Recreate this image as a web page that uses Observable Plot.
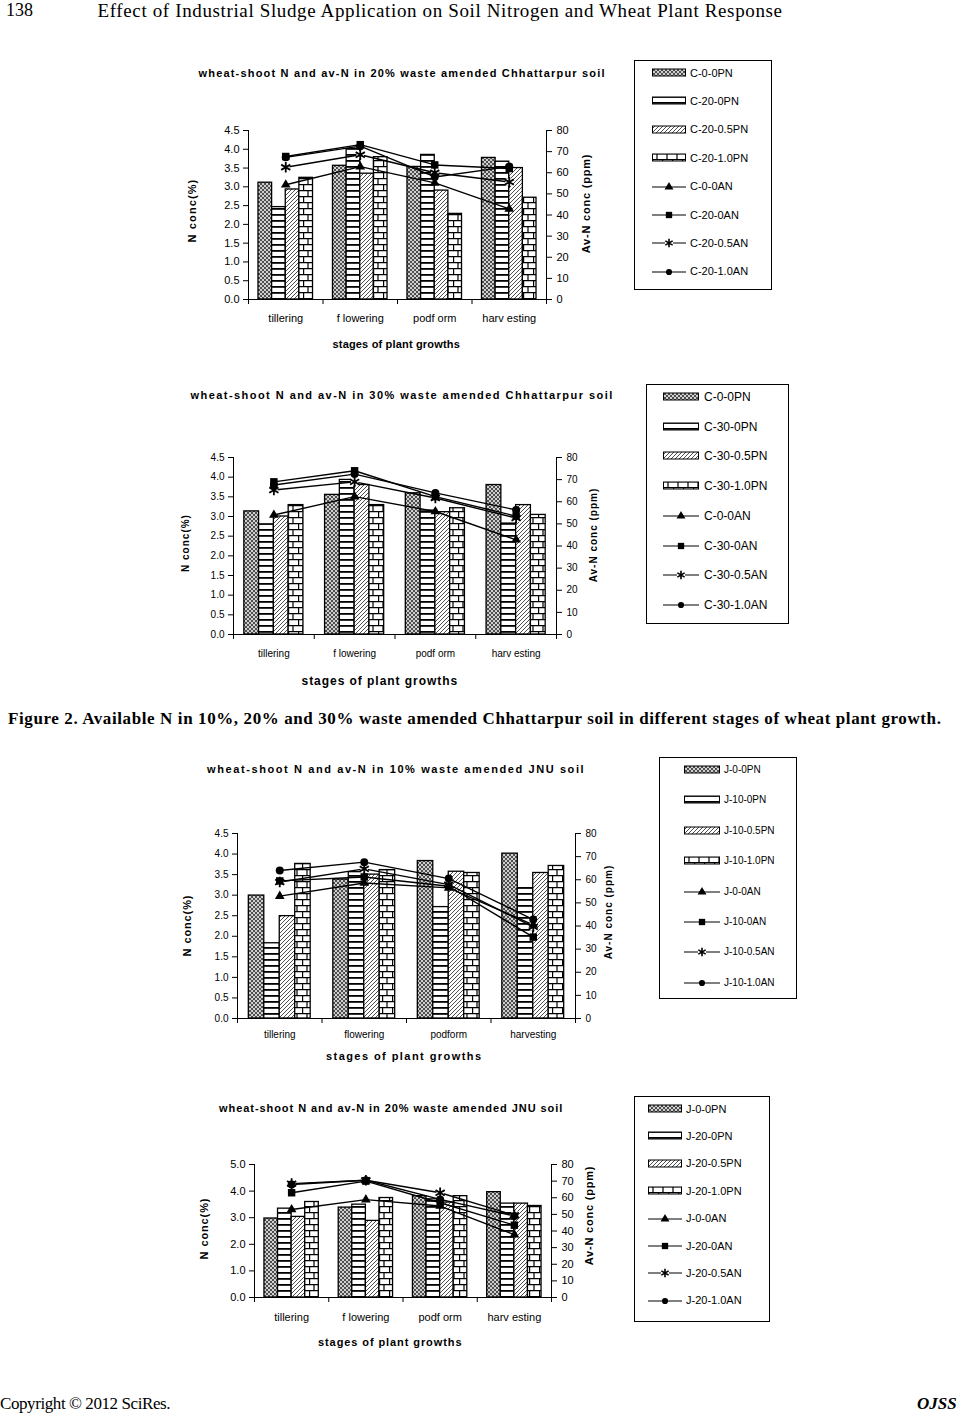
<!DOCTYPE html>
<html><head><meta charset="utf-8">
<script src="https://cdn.jsdelivr.net/npm/d3@7"></script>
<script src="https://cdn.jsdelivr.net/npm/@observablehq/plot@0.6"></script>
<style>
body{margin:0;background:#fff;}
#page{position:relative;width:965px;height:1414px;overflow:hidden;background:#fff;color:#000;}
.t{position:absolute;white-space:nowrap;line-height:1;}
.lg{position:absolute;border:1px solid #000;box-sizing:border-box;}
.ch{position:absolute;}
</style></head><body>
<svg width="0" height="0" style="position:absolute">
<defs>
<pattern id="pCross" width="4" height="4" patternUnits="userSpaceOnUse">
  <rect width="4" height="4" fill="#d0d0d0"/>
  <path d="M0,0L4,4M4,0L0,4" stroke="#404040" stroke-width="0.9"/>
</pattern>
<pattern id="pHoriz" width="6" height="6" patternUnits="userSpaceOnUse">
  <rect width="6" height="6" fill="#fff"/>
  <rect y="0" width="6" height="1.8" fill="#000"/>
</pattern>
<pattern id="pDiag" width="4" height="4" patternUnits="userSpaceOnUse">
  <rect width="4" height="4" fill="#fff"/>
  <path d="M-1,1L1,-1M0,4L4,0M3,5L5,3" stroke="#3a3a3a" stroke-width="0.9"/>
</pattern>
<pattern id="pBrick" width="10" height="12" patternUnits="userSpaceOnUse">
  <rect width="10" height="12" fill="#fff"/>
  <path d="M0,0.6H10M0,6.6H10M5,0.6V6.6M0.6,6.6V12.6" stroke="#000" stroke-width="1.2"/>
</pattern>
</defs></svg>
<div id="page"></div>
<script>
// ---------- data ----------
const stagesC = ["tillering", "f lowering", "podf orm", "harv esting"];
const stagesJ = ["tillering", "flowering", "podform", "harvesting"];
const rightTicks = [0, 10, 20, 30, 40, 50, 60, 70, 80];
const leftTicks45 = [0, 0.5, 1, 1.5, 2, 2.5, 3, 3.5, 4, 4.5];
const leftTicks50 = [0, 1, 2, 3, 4, 5];

// Chart 1: 20% Chhattarpur
const c20BarNames = ["C-0-0PN", "C-20-0PN", "C-20-0.5PN", "C-20-1.0PN"];
const c20LineNames = ["C-0-0AN", "C-20-0AN", "C-20-0.5AN", "C-20-1.0AN"];
const c20Bars = [
  [3.11, 3.56, 3.53, 3.77],
  [2.46, 4.01, 3.85, 3.67],
  [2.93, 3.35, 2.90, 3.50],
  [3.24, 3.79, 2.28, 2.71]
];
const c20Lines = [
  [54.3, 62.9, 55.2, 42.9],
  [67.7, 73.3, 63.7, 62.0],
  [62.6, 68.5, 60.0, 55.6],
  [67.3, 72.6, 58.0, 62.9]
];

// Chart 2: 30% Chhattarpur
const c30BarNames = ["C-0-0PN", "C-30-0PN", "C-30-0.5PN", "C-30-1.0PN"];
const c30LineNames = ["C-0-0AN", "C-30-0AN", "C-30-0.5AN", "C-30-1.0AN"];
const c30Bars = [
  [3.13, 3.55, 3.59, 3.80],
  [2.80, 3.93, 3.15, 2.82],
  [3.00, 3.80, 3.11, 3.29],
  [3.29, 3.29, 3.21, 3.04]
];
const c30Lines = [
  [54.0, 62.3, 55.6, 42.8],
  [69.0, 74.0, 62.3, 53.5],
  [65.3, 69.0, 61.7, 52.6],
  [67.6, 72.5, 64.0, 56.3]
];

// Chart 3: 10% JNU
const j10BarNames = ["J-0-0PN", "J-10-0PN", "J-10-0.5PN", "J-10-1.0PN"];
const j10LineNames = ["J-0-0AN", "J-10-0AN", "J-10-0.5AN", "J-10-1.0AN"];
const j10Bars = [
  [2.99, 3.38, 3.83, 4.01],
  [1.83, 3.56, 2.71, 3.17],
  [2.49, 3.50, 3.57, 3.54],
  [3.76, 3.61, 3.54, 3.71]
];
const j10Lines = [
  [52.9, 58.6, 56.5, 40.5],
  [59.5, 61.2, 57.2, 35.2],
  [59.0, 64.7, 57.9, 39.6],
  [64.0, 67.6, 60.5, 42.8]
];

// Chart 4: 20% JNU
const j20BarNames = ["J-0-0PN", "J-20-0PN", "J-20-0.5PN", "J-20-1.0PN"];
const j20LineNames = ["J-0-0AN", "J-20-0AN", "J-20-0.5AN", "J-20-1.0AN"];
const j20Bars = [
  [2.97, 3.38, 3.81, 3.96],
  [3.34, 3.49, 3.69, 3.53],
  [3.03, 2.88, 3.57, 3.53],
  [3.59, 3.74, 3.81, 3.44]
];
const j20Lines = [
  [52.9, 58.9, 55.0, 37.8],
  [63.0, 70.0, 57.0, 43.5],
  [68.5, 70.5, 63.0, 49.5],
  [68.0, 70.5, 59.0, 49.0]
];

// ---------- helpers ----------
const FONT = '"Liberation Sans", Arial, sans-serif';
const SERIF = '"Liberation Serif", "Times New Roman", serif';
const page = document.getElementById("page");
const patternIds = ["pCross", "pHoriz", "pDiag", "pBrick"];

function addText(str, o) {
  const el = document.createElement("div");
  el.className = "t";
  el.textContent = str;
  el.style.fontFamily = o.serif ? SERIF : FONT;
  el.style.fontSize = o.size + "px";
  if (o.bold) el.style.fontWeight = "bold";
  if (o.italic) el.style.fontStyle = "italic";
  page.appendChild(el);
  let w = el.offsetWidth;
  if (o.fit) {
    const n = [...str].length;
    el.style.letterSpacing = ((o.fit - w) / n) + "px";
    w = el.offsetWidth;
  }
  const h = el.offsetHeight;
  const a = o.anchor === "start" ? 0 : o.anchor === "end" ? 1 : 0.5;
  if (o.rotate) {
    el.style.left = (o.x - w / 2) + "px";
    el.style.top = (o.y - h / 2) + "px";
    el.style.transform = "rotate(-90deg)";
  } else {
    el.style.left = (o.x - a * w) + "px";
    el.style.top = (o.y - h / 2) + "px";
  }
  return el;
}

function chart(c) {
  const k = c.yMax / 80;
  const bw = 0.183;
  const barData = c.bars.flatMap((vals, s) => vals.map((v, i) => ({s, i, v})));
  const lineData = c.lines.flatMap((vals, s) => vals.map((v, i) => ({s, i, v: v * k})));
  const W = c.px1 - c.px0 + c.ml + c.mr;
  const H = c.py1 - c.py0 + c.mt + c.mb;
  const ser = s => lineData.filter(d => d.s === s);
  const svg = Plot.plot({
    width: W, height: H,
    marginLeft: c.ml, marginRight: c.mr, marginTop: c.mt, marginBottom: c.mb,
    x: {type: "linear", domain: [-0.5, 3.5], axis: null},
    y: {type: "linear", domain: [0, c.yMax], axis: null},
    style: {fontFamily: FONT, fontSize: c.fs + "px", color: "#000", background: "transparent", overflow: "visible"},
    marks: [
      ...patternIds.map((p, s) => Plot.rectY(barData.filter(d => d.s === s), {
        x1: d => d.i + (s - 2) * bw, x2: d => d.i + (s - 1) * bw, y1: 0, y2: "v",
        fill: `url(#${p})`, stroke: "#000", strokeWidth: 1.3
      })),
      Plot.ruleY([0], {stroke: "#000", strokeWidth: 1}),
      Plot.ruleX([-0.5, 3.5], {y1: 0, y2: c.yMax, stroke: "#000", strokeWidth: 1}),
      Plot.axisY({anchor: "left", ticks: c.leftTicks, tickFormat: d => d.toFixed(1), tickSize: 5, tickPadding: 4, label: null}),
      Plot.axisY({anchor: "right", ticks: rightTicks.map(v => v * k), tickFormat: d => String(Math.round(d / k)), tickSize: 5, tickPadding: 5, label: null}),
      Plot.axisX({ticks: [-0.5, 0.5, 1.5, 2.5, 3.5], tickFormat: () => "", tickSize: 5, label: null}),
      Plot.axisX({ticks: [0, 1, 2, 3], tickFormat: i => c.stages[i], tickSize: 0, tickPadding: c.xpad, label: null}),
      Plot.line(lineData, {x: "i", y: "v", z: "s", stroke: "#000", strokeWidth: 1.4}),
      Plot.dot(ser(2), {x: "i", y: "v", symbol: "square", fill: "#fff", r: 4.2}),
      Plot.dot(ser(2), {x: "i", y: "v", symbol: "asterisk", stroke: "#000", strokeWidth: 1.8, r: 5}),
      Plot.dot(ser(0), {x: "i", y: "v", symbol: "triangle", fill: "#000", r: 3.6}),
      Plot.dot(ser(1), {x: "i", y: "v", symbol: "square", fill: "#000", r: 4.2}),
      Plot.dot(ser(3), {x: "i", y: "v", symbol: "circle", fill: "#000", r: 4})
    ]
  });
  const wrap = document.createElement("div");
  wrap.className = "ch";
  wrap.style.left = (c.px0 - c.ml) + "px";
  wrap.style.top = (c.py0 - c.mt) + "px";
  wrap.appendChild(svg);
  page.appendChild(wrap);
}

function markerSvg(s, cx, cy) {
  const sym = [d3.symbolTriangle, d3.symbolSquare, d3.symbolAsterisk, d3.symbolCircle][s];
  const size = [34, 40, 50, 30][s];
  const d = d3.symbol(sym, size)();
  if (s === 2) {
    return `<rect x="${cx - 4}" y="${cy - 4}" width="8" height="8" fill="#fff"/><path d="${d}" transform="translate(${cx},${cy})" fill="none" stroke="#000" stroke-width="1.6"/>`;
  }
  return `<path d="${d}" transform="translate(${cx},${cy})" fill="#000"/>`;
}

function legend(L) {
  const box = document.createElement("div");
  box.className = "lg";
  Object.assign(box.style, {left: L.x0 + "px", top: L.y0 + "px", width: (L.x1 - L.x0) + "px", height: (L.y1 - L.y0) + "px"});
  page.appendChild(box);
  const names = [...L.barNames, ...L.lineNames];
  const sw = L.sw1 - L.sw0;
  names.forEach((name, j) => {
    const cy = L.first + j * L.step;
    let inner;
    if (j < 4) {
      inner = `<rect x="0.5" y="1" width="${sw - 1}" height="7" fill="url(#${patternIds[j]})" stroke="#000" stroke-width="1"/>`;
    } else {
      inner = `<line x1="0" x2="${sw}" y1="5" y2="5" stroke="#000" stroke-width="1.2"/>` + markerSvg(j - 4, sw / 2, 5);
    }
    page.insertAdjacentHTML("beforeend",
      `<svg width="${sw}" height="10" style="position:absolute;left:${L.sw0}px;top:${cy - 5}px;overflow:visible">${inner}</svg>`);
    addText(name, {x: L.tx, y: cy, size: L.fs, anchor: "start"});
  });
}

// ---------- page header ----------
addText("138", {x: 6, y: 10, size: 18, serif: true, anchor: "start"});
addText("Effect of Industrial Sludge Application on Soil Nitrogen and Wheat Plant Response", {x: 440, y: 10, size: 19, serif: true, fit: 685});

// ---------- chart 1 ----------
addText("wheat-shoot N and av-N in 20% waste amended Chhattarpur soil", {x: 402, y: 73, size: 11, bold: true, fit: 407});
chart({bars: c20Bars, lines: c20Lines, stages: stagesC, yMax: 4.5, leftTicks: leftTicks45,
  px0: 248, px1: 546, py0: 130, py1: 299, ml: 45, mr: 45, mt: 12, mb: 32, fs: 11, xpad: 15});
addText("N conc(%)", {x: 193, y: 210, size: 11, bold: true, rotate: true, fit: 64});
addText("Av-N conc (ppm)", {x: 587, y: 203, size: 11, bold: true, rotate: true, fit: 100});
addText("stages of plant growths", {x: 396, y: 344, size: 11, bold: true, fit: 127});
legend({barNames: c20BarNames, lineNames: c20LineNames, x0: 634, x1: 772, y0: 60, y1: 290,
  first: 73, step: 28.4, sw0: 652, sw1: 686, tx: 690, fs: 11});

// ---------- chart 2 ----------
addText("wheat-shoot N and av-N in 30% waste amended Chhattarpur soil", {x: 402, y: 395, size: 11, bold: true, fit: 423});
chart({bars: c30Bars, lines: c30Lines, stages: stagesC, yMax: 4.5, leftTicks: leftTicks45,
  px0: 233, px1: 556, py0: 457, py1: 634, ml: 45, mr: 45, mt: 12, mb: 32, fs: 10, xpad: 15});
addText("N conc(%)", {x: 186, y: 543, size: 10, bold: true, rotate: true, fit: 58});
addText("Av-N conc (ppm)", {x: 594, y: 535, size: 10, bold: true, rotate: true, fit: 95});
addText("stages of plant growths", {x: 380, y: 681, size: 12, bold: true, fit: 157});
legend({barNames: c30BarNames, lineNames: c30LineNames, x0: 646, x1: 789, y0: 384, y1: 624,
  first: 397, step: 29.7, sw0: 663, sw1: 699, tx: 704, fs: 12});

// ---------- caption ----------
addText("Figure 2. Available N in 10%, 20% and 30% waste amended Chhattarpur soil in different stages of wheat plant growth.",
  {x: 475, y: 718, size: 17, serif: true, bold: true, fit: 934});

// ---------- chart 3 ----------
addText("wheat-shoot N and av-N in 10% waste amended JNU soil", {x: 396, y: 769, size: 11, bold: true, fit: 378});
chart({bars: j10Bars, lines: j10Lines, stages: stagesJ, yMax: 4.5, leftTicks: leftTicks45,
  px0: 237, px1: 575, py0: 833, py1: 1018, ml: 45, mr: 45, mt: 12, mb: 30, fs: 10, xpad: 12});
addText("N conc(%)", {x: 188, y: 925, size: 11, bold: true, rotate: true, fit: 62});
addText("Av-N conc (ppm)", {x: 609, y: 912, size: 10, bold: true, rotate: true, fit: 95});
addText("stages of plant growths", {x: 404, y: 1056, size: 11, bold: true, fit: 156});
legend({barNames: j10BarNames, lineNames: j10LineNames, x0: 659, x1: 797, y0: 757, y1: 999,
  first: 770, step: 30.4, sw0: 684, sw1: 720, tx: 724, fs: 10});

// ---------- chart 4 ----------
addText("wheat-shoot N and av-N in 20% waste amended JNU soil", {x: 391, y: 1108, size: 11, bold: true, fit: 344});
chart({bars: j20Bars, lines: j20Lines, stages: stagesC, yMax: 5, leftTicks: leftTicks50,
  px0: 254, px1: 551, py0: 1164, py1: 1297, ml: 45, mr: 45, mt: 12, mb: 32, fs: 11, xpad: 16});
addText("N conc(%)", {x: 205, y: 1228, size: 11, bold: true, rotate: true, fit: 62});
addText("Av-N conc (ppm)", {x: 590, y: 1215, size: 11, bold: true, rotate: true, fit: 100});
addText("stages of plant growths", {x: 390, y: 1342, size: 11, bold: true, fit: 144});
legend({barNames: j20BarNames, lineNames: j20LineNames, x0: 634, x1: 770, y0: 1096, y1: 1322,
  first: 1109, step: 27.4, sw0: 648, sw1: 682, tx: 686, fs: 11});

// ---------- footer ----------
addText("Copyright \u00a9 2012 SciRes.", {x: 0, y: 1403, size: 17, serif: true, anchor: "start", fit: 170});
addText("OJSS", {x: 957, y: 1403, size: 17, serif: true, bold: true, italic: true, anchor: "end"});
</script></body></html>
